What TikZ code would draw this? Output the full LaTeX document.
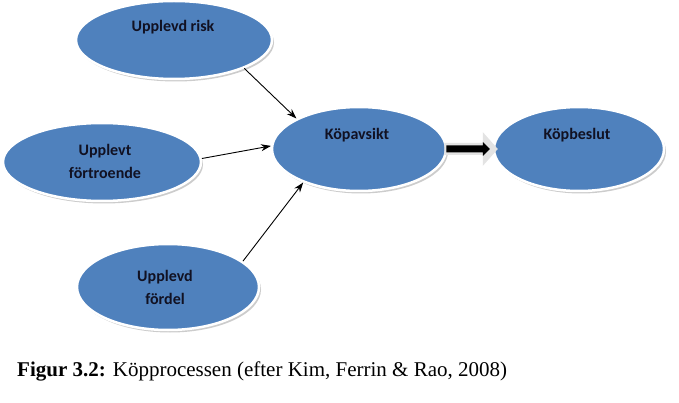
\documentclass[tikz,border=0pt]{standalone}
\usepackage{fontspec}
\setmainfont{Liberation Serif}
\newfontfamily\lblfont{Carlito}
\usetikzlibrary{shapes.geometric,shadows,arrows.meta,calc}
\definecolor{ellblue}{HTML}{4F81BD}
\definecolor{lbltxt}{HTML}{111122}
\tikzset{
  ellbox/.style={ellipse, fill=ellblue, draw=white, line width=2.5pt, inner sep=0pt,
    drop shadow={opacity=0.4, shadow xshift=2pt, shadow yshift=-2.5pt}},
  lbl/.style={font=\lblfont\bfseries\fontsize{16}{23}\selectfont, text=lbltxt, align=center, inner sep=0pt},
  conn/.style={-{Stealth[length=10pt,width=7pt]}, line width=0.9pt, black}
}
\begin{document}
\begin{tikzpicture}[x=1pt,y=-1pt]
\useasboundingbox (0,0) rectangle (679,403);
% ellipses
\node[ellbox, minimum width=196pt, minimum height=78pt] (risk) at (174,40) {};
\node[ellbox, minimum width=198pt, minimum height=78pt] (fort) at (102,162) {};
\node[ellbox, minimum width=182pt, minimum height=86pt] (ford) at (168,287) {};
\node[ellbox, minimum width=174pt, minimum height=84pt] (avs) at (359,149) {};
\node[ellbox, minimum width=170pt, minimum height=84pt] (besl) at (579,149) {};
% labels
\node[lbl] (riskT) at (173,27) {Upplevd risk};
\node[lbl] (fortT) at (105,161) {Upplevt\\förtroende};
\node[lbl] (fordT) at (165,287) {Upplevd\\fördel};
\node[lbl] (avsT) at (357,135) {Köpavsikt};
\node[lbl] (beslT) at (577,135) {Köpbeslut};
% connectors
\draw[conn] (risk.-22) -- (avs.154);
\draw[conn] (fort.2) -- (avs.178);
\draw[conn] (ford.19) -- (avs.211);
% block arrow
\path (avs.east) ++(-1,0) coordinate (bs) (besl.west) ++(0,0) coordinate (be);
\fill[gray!22] ($(bs)+(-2,-6)$) -- ($(be)+(-10,-6)$) -- ($(be)+(-10,-17)$) -- ($(be)+(5,0)$) -- ($(be)+(-10,17)$) -- ($(be)+(-10,6)$) -- ($(bs)+(-2,6)$) -- cycle;
\fill[black] ($(bs)+(0,-3.5)$) -- ($(be)+(-10,-3.5)$) -- ($(be)+(-10,-7)$) -- ($(be)+(-3,0)$) -- ($(be)+(-10,7)$) -- ($(be)+(-10,3.5)$) -- ($(bs)+(0,3.5)$) -- cycle;
% caption
\node[anchor=base west, inner sep=0pt, font=\fontsize{21}{25}\selectfont] (cap) at (17,376) {\textbf{Figur 3.2:} Köpprocessen (efter Kim, Ferrin \& Rao, 2008)};
\end{tikzpicture}
\end{document}
